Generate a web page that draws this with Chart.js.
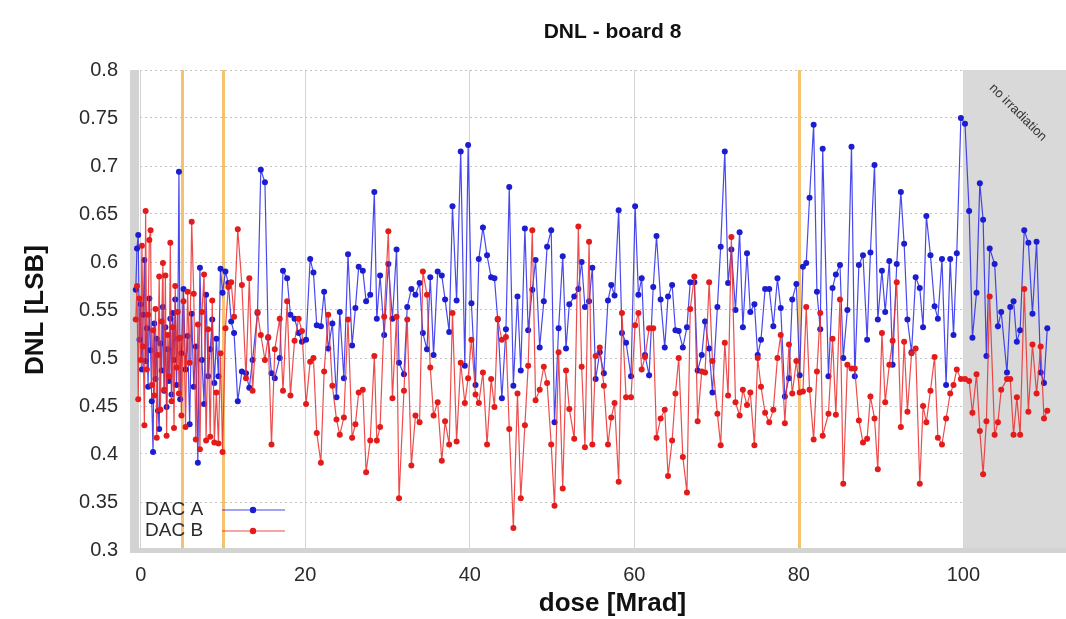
<!DOCTYPE html>
<html lang="en">
<head>
<meta charset="UTF-8">
<title>DNL - board 8</title>
<script src="https://cdn.jsdelivr.net/npm/chart.js"></script>
<style>
  html, body { margin: 0; padding: 0; background: #fff; overflow: hidden; }
  #wrap { position: relative; width: 1066px; height: 619px; overflow: hidden; }
  #dnlChart { position: absolute; left: 0; top: 0; }
</style>
</head>
<body>
<div id="wrap"><canvas id="dnlChart" width="1100" height="619"></canvas></div>
<script>
// dose of each measurement [Mrad]
const dose = [
  -0.6, -0.45, -0.3, -0.15, 0, 0.15, 0.3, 0.45, 0.6, 0.75,
  0.9, 1.05, 1.2, 1.35, 1.5, 1.65, 1.8, 1.95, 2.1, 2.25,
  2.4, 2.55, 2.7, 2.85, 3.0, 3.15, 3.3, 3.45, 3.6, 3.75,
  3.9, 4.05, 4.2, 4.35, 4.5, 4.65, 4.8, 4.95,
  5.2, 5.45, 5.7, 5.95, 6.2, 6.45, 6.7, 6.95, 7.2, 7.45,
  7.7, 7.95, 8.2, 8.45, 8.7, 8.95, 9.2, 9.45, 9.7, 9.95,
  10.3, 10.65, 11.0, 11.35,
  11.8, 12.3, 12.8, 13.2, 13.6, 14.2, 14.6, 15.1, 15.5, 15.9,
  16.3, 16.9, 17.3, 17.8, 18.2, 18.7, 19.2, 19.6, 20.1, 20.6,
  21.0, 21.4, 21.9, 22.3, 22.8, 23.3, 23.8, 24.2, 24.7, 25.2,
  25.7, 26.1, 26.5, 27.0, 27.4, 27.9, 28.4, 28.7, 29.1, 29.6,
  30.1, 30.6, 31.1, 31.4, 32.0, 32.4, 32.9, 33.4, 33.9, 34.3,
  34.8, 35.2,
  35.6, 36.1, 36.6, 37.0, 37.5, 37.9, 38.4, 38.9, 39.4, 39.8,
  40.2, 40.7, 41.1, 41.6, 42.1, 42.6, 43.0, 43.4, 43.9, 44.4,
  44.8, 45.3, 45.8, 46.2, 46.7, 47.1, 47.6, 48.0, 48.5, 49.0,
  49.4, 49.9, 50.3, 50.8, 51.3, 51.7, 52.1, 52.7, 53.2, 53.6,
  54.0, 54.5, 54.9, 55.3, 55.8, 56.3, 56.8, 57.2, 57.6, 58.1,
  58.5, 59.0,
  59.6, 60.1, 60.5, 60.9, 61.3, 61.8, 62.3, 62.7, 63.2, 63.7,
  64.1, 64.6, 65.0, 65.4, 65.9, 66.4, 66.8, 67.3, 67.7, 68.2,
  68.6, 69.1, 69.5, 70.1, 70.5, 71.0, 71.4, 71.8, 72.3, 72.8,
  73.2, 73.7, 74.1, 74.6, 75.0, 75.4, 75.9, 76.4, 76.9, 77.4,
  77.8, 78.3, 78.8, 79.2, 79.7, 80.1, 80.5, 80.9, 81.3, 81.8,
  82.2, 82.6, 82.9,
  83.6, 84.1, 84.5, 85.0, 85.4, 85.9, 86.4, 86.8, 87.3, 87.8,
  88.3, 88.7, 89.2, 89.6, 90.1, 90.5, 91.0, 91.4, 91.9, 92.4,
  92.8, 93.2, 93.7, 94.2, 94.7, 95.1, 95.5, 96.0, 96.5, 96.9,
  97.4, 97.9, 98.4, 98.8, 99.2, 99.7, 100.2, 100.7, 101.1, 101.6,
  102.0, 102.4, 102.8, 103.2, 103.8, 104.2, 104.6, 105.3, 105.7, 106.1,
  106.5, 106.9, 107.4, 107.9, 108.4, 108.9, 109.4, 109.8, 110.2
];

// DNL of DAC A [LSB]
const dacA = [
  0.571, 0.614, 0.628, 0.519, 0.556, 0.488, 0.545, 0.602, 0.497, 0.531,
  0.470, 0.562, 0.508, 0.455, 0.402, 0.536, 0.478, 0.520, 0.445, 0.426,
  0.515, 0.487, 0.553, 0.466, 0.532, 0.449, 0.509, 0.476, 0.541, 0.462,
  0.547, 0.498, 0.561, 0.472, 0.520, 0.694, 0.457, 0.505,
  0.572, 0.488, 0.523, 0.431, 0.546, 0.470, 0.512, 0.391, 0.594, 0.498,
  0.452, 0.566, 0.481, 0.509, 0.540, 0.474, 0.520, 0.481, 0.593, 0.568,
  0.590, 0.578, 0.538, 0.526,
  0.455, 0.486, 0.484, 0.469, 0.498, 0.547, 0.696, 0.683, 0.521, 0.484,
  0.479, 0.500, 0.591, 0.583, 0.545, 0.541, 0.526, 0.517, 0.519, 0.603,
  0.589, 0.534, 0.533, 0.569, 0.510, 0.536, 0.459, 0.548, 0.479, 0.608,
  0.513, 0.552, 0.595, 0.591, 0.559, 0.566, 0.673, 0.541, 0.586, 0.524,
  0.598, 0.541, 0.613, 0.495, 0.483, 0.553, 0.572, 0.566, 0.578, 0.526,
  0.509, 0.584,
  0.503, 0.590, 0.586, 0.561, 0.527, 0.658, 0.560, 0.715, 0.492, 0.722,
  0.557, 0.472, 0.603, 0.636, 0.607, 0.584, 0.583, 0.540, 0.458, 0.530,
  0.678, 0.471, 0.564, 0.487, 0.635, 0.529, 0.571, 0.602, 0.511, 0.559,
  0.616, 0.633, 0.433, 0.531, 0.606, 0.510, 0.556, 0.564, 0.572, 0.600,
  0.553, 0.559, 0.594, 0.478, 0.506, 0.484, 0.560, 0.576, 0.565, 0.654,
  0.526, 0.516,
  0.481, 0.658, 0.566, 0.583, 0.503, 0.482, 0.574, 0.627, 0.561, 0.511,
  0.564, 0.576, 0.529, 0.528, 0.511, 0.532, 0.579, 0.579, 0.487, 0.503,
  0.538, 0.510, 0.464, 0.553, 0.616, 0.715, 0.578, 0.613, 0.550, 0.631,
  0.532, 0.609, 0.548, 0.556, 0.503, 0.519, 0.572, 0.572, 0.533, 0.583,
  0.552, 0.460, 0.479, 0.561, 0.577, 0.482, 0.595, 0.599, 0.667, 0.743,
  0.569, 0.530, 0.718,
  0.481, 0.573, 0.587, 0.597, 0.500, 0.550, 0.720, 0.481, 0.597, 0.607,
  0.519, 0.610, 0.701, 0.540, 0.591, 0.548, 0.601, 0.493, 0.598, 0.673,
  0.619, 0.540, 0.506, 0.584, 0.573, 0.532, 0.648, 0.607, 0.554, 0.541,
  0.603, 0.472, 0.603, 0.524, 0.609, 0.750, 0.744, 0.653, 0.521, 0.568,
  0.682, 0.644, 0.502, 0.614, 0.598, 0.533, 0.548, 0.485, 0.553, 0.559,
  0.517, 0.529, 0.633, 0.620, 0.546, 0.621, 0.485, 0.474, 0.531
];

// DNL of DAC B [LSB]
const dacB = [
  0.540, 0.575, 0.457, 0.562, 0.498, 0.617, 0.512, 0.430, 0.653, 0.488,
  0.545, 0.623, 0.633, 0.472, 0.529, 0.461, 0.551, 0.417, 0.503, 0.585,
  0.446, 0.538, 0.599, 0.467, 0.586, 0.419, 0.524, 0.481, 0.620, 0.455,
  0.532, 0.427, 0.575, 0.490, 0.548, 0.463, 0.521, 0.440,
  0.559, 0.428, 0.569, 0.495, 0.642, 0.567, 0.415, 0.535, 0.405, 0.548,
  0.587, 0.414, 0.530, 0.418, 0.560, 0.412, 0.464, 0.411, 0.505, 0.402,
  0.531, 0.574, 0.579, 0.543,
  0.634, 0.576, 0.479, 0.583, 0.466, 0.548, 0.524, 0.498, 0.522, 0.410,
  0.509, 0.541, 0.466, 0.559, 0.461, 0.518, 0.541, 0.528, 0.452, 0.496,
  0.500, 0.422, 0.391, 0.486, 0.545, 0.471, 0.436, 0.420, 0.438, 0.540,
  0.417, 0.431, 0.464, 0.467, 0.381, 0.414, 0.502, 0.414, 0.428, 0.543,
  0.632, 0.458, 0.543, 0.354, 0.466, 0.540, 0.388, 0.440, 0.433, 0.590,
  0.566, 0.490,
  0.440, 0.454, 0.393, 0.434, 0.410, 0.547, 0.413, 0.495, 0.453, 0.479,
  0.519, 0.462, 0.453, 0.485, 0.410, 0.478, 0.449, 0.541, 0.519, 0.522,
  0.426, 0.323, 0.463, 0.354, 0.430, 0.492, 0.633, 0.456, 0.467, 0.491,
  0.474, 0.410, 0.346, 0.506, 0.364, 0.487, 0.447, 0.416, 0.637, 0.491,
  0.407, 0.621, 0.410, 0.502, 0.511, 0.471, 0.410, 0.438, 0.453, 0.371,
  0.547, 0.459,
  0.459, 0.534, 0.547, 0.488, 0.501, 0.531, 0.531, 0.417, 0.437, 0.446,
  0.377, 0.414, 0.463, 0.500, 0.397, 0.360, 0.551, 0.585, 0.434, 0.486,
  0.485, 0.579, 0.497, 0.442, 0.409, 0.516, 0.461, 0.626, 0.454, 0.440,
  0.467, 0.451, 0.464, 0.409, 0.500, 0.470, 0.443, 0.433, 0.446, 0.500,
  0.524, 0.432, 0.514, 0.463, 0.497, 0.464, 0.465, 0.553, 0.467, 0.415,
  0.486, 0.547, 0.419,
  0.442, 0.520, 0.441, 0.561, 0.369, 0.493, 0.489, 0.489, 0.435, 0.412,
  0.416, 0.460, 0.437, 0.384, 0.526, 0.454, 0.493, 0.518, 0.579, 0.428,
  0.517, 0.444, 0.505, 0.510, 0.369, 0.450, 0.433, 0.466, 0.501, 0.417,
  0.410, 0.437, 0.463, 0.472, 0.488, 0.478, 0.478, 0.476, 0.443, 0.483,
  0.424, 0.379, 0.434, 0.564, 0.420, 0.433, 0.467, 0.478, 0.478, 0.420,
  0.459, 0.420, 0.572, 0.444, 0.514, 0.463, 0.512, 0.437, 0.445
];

const xTicks = [0, 20, 40, 60, 80, 100];
const yTicks = [0.3, 0.35, 0.4, 0.45, 0.5, 0.55, 0.6, 0.65, 0.7, 0.75, 0.8];
const markerDoses = [5, 10, 80];     // orange vertical markers
const irradiationEnd = 100;          // shaded part after this dose
const seriesNames = ['DAC A', 'DAC B'];

const FONT = '"Liberation Sans", Helvetica, Arial, sans-serif';
const TEXT = '#2b2b2b';

function points(values) {
  return dose.map((d, i) => ({ x: d, y: values[i] }));
}

// background bands, markers, frame, legend and titles
const decorations = {
  id: 'decorations',
  beforeDatasetsDraw(chart) {
    const { ctx, chartArea: a, scales: { x } } = chart;
    ctx.save();
    const gx = x.getPixelForValue(irradiationEnd);
    ctx.fillStyle = '#d9d9d9';
    ctx.fillRect(gx, a.top, a.right - gx, a.bottom - a.top);

    ctx.strokeStyle = '#f5c272';
    ctx.lineWidth = 3;
    markerDoses.forEach(d => {
      const px = Math.round(x.getPixelForValue(d)) + 0.5;
      ctx.beginPath();
      ctx.moveTo(px, a.top);
      ctx.lineTo(px, a.bottom);
      ctx.stroke();
    });

    ctx.fillStyle = '#d3d3d3';
    ctx.fillRect(a.left, a.top, 9, a.bottom - a.top + 3);
    ctx.fillRect(a.left, a.bottom - 2, a.right - a.left, 5);
    ctx.restore();
  },
  afterDatasetsDraw(chart) {
    const { ctx, chartArea: a, scales: { x } } = chart;
    ctx.save();
    // label of the shaded band
    ctx.translate(x.getPixelForValue(irradiationEnd) + 28, a.top + 16);
    ctx.rotate(Math.PI / 4);
    ctx.fillStyle = '#333';
    ctx.font = '13px ' + FONT;
    ctx.textBaseline = 'middle';
    ctx.fillText('no irradiation', 0, 0);
    ctx.restore();

    // legend
    ctx.save();
    const colors = ['#1c1cd0', '#e41b1b'];
    const lines = ['rgba(40,40,235,0.85)', 'rgba(235,45,45,0.85)'];
    seriesNames.forEach((name, i) => {
      const ly = 510 + i * 21;
      ctx.fillStyle = TEXT;
      ctx.font = '19px ' + FONT;
      ctx.textBaseline = 'middle';
      ctx.textAlign = 'left';
      ctx.fillText(name, 145, ly);
      ctx.strokeStyle = lines[i];
      ctx.lineWidth = 1.2;
      ctx.beginPath();
      ctx.moveTo(222, ly);
      ctx.lineTo(285, ly);
      ctx.stroke();
      ctx.fillStyle = colors[i];
      ctx.beginPath();
      ctx.arc(253, ly, 3.2, 0, Math.PI * 2);
      ctx.fill();
    });
    ctx.restore();
  },
  afterDraw(chart) {
    const { ctx, chartArea: a } = chart;
    const cx = (a.left + a.right) / 2;
    ctx.save();
    ctx.fillStyle = '#111';
    ctx.textAlign = 'center';
    ctx.textBaseline = 'middle';
    ctx.font = 'bold 21px ' + FONT;
    ctx.fillText('DNL - board 8', cx, 32);
    ctx.font = 'bold 26px ' + FONT;
    ctx.fillText('dose [Mrad]', cx, 604);
    ctx.translate(36, (a.top + a.bottom) / 2);
    ctx.rotate(-Math.PI / 2);
    ctx.fillText('DNL [LSB]', 0, 0);
    ctx.restore();
  }
};

new Chart(document.getElementById('dnlChart'), {
  type: 'line',
  data: {
    datasets: [
      {
        label: seriesNames[0],
        data: points(dacA),
        order: 2,
        borderColor: 'rgba(40,40,235,0.85)',
        borderWidth: 1.2,
        backgroundColor: '#1c1cd0',
        pointBackgroundColor: '#1c1cd0',
        pointBorderWidth: 0,
        pointRadius: 3,
        tension: 0
      },
      {
        label: seriesNames[1],
        data: points(dacB),
        order: 1,
        borderColor: 'rgba(235,45,45,0.85)',
        borderWidth: 1.2,
        backgroundColor: '#e41b1b',
        pointBackgroundColor: '#e41b1b',
        pointBorderWidth: 0,
        pointRadius: 3,
        tension: 0
      }
    ]
  },
  options: {
    responsive: false,
    animation: false,
    layout: { padding: { top: 70, right: 5, left: 0, bottom: 0 } },
    plugins: { legend: { display: false }, tooltip: { enabled: false } },
    scales: {
      x: {
        type: 'linear',
        min: -1.3,
        max: 116,
        afterBuildTicks: s => { s.ticks = xTicks.map(v => ({ value: v })); },
        afterFit: s => { s.height = 69; },
        border: { display: false },
        grid: { color: '#d4d4d4', lineWidth: 1, drawTicks: false },
        ticks: { color: TEXT, font: { family: FONT, size: 20 }, padding: 13, maxRotation: 0 }
      },
      y: {
        min: 0.3,
        max: 0.8,
        afterBuildTicks: s => { s.ticks = yTicks.map(v => ({ value: v })); },
        afterFit: s => { s.width = 130; },
        border: { display: false, dash: [2, 3] },
        grid: { color: '#c4c4c4', lineWidth: 1, drawTicks: false },
        ticks: {
          color: TEXT,
          font: { family: FONT, size: 20 },
          padding: 12,
          callback: v => String(v)
        }
      }
    }
  },
  plugins: [decorations]
});
</script>
</body>
</html>
